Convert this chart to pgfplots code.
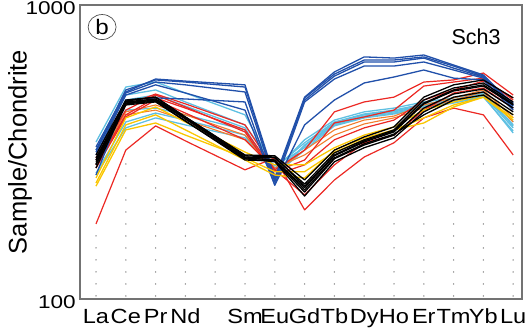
\documentclass[border=0pt]{standalone}
\usepackage{fontspec}
\setmainfont{Liberation Sans}
\newfontfamily\widefont[FakeStretch=1.15]{Liberation Sans}
\newfontfamily\wideyfont[FakeStretch=1.22]{Liberation Sans}
\usepackage{pgfplots}
\usepackage{pgfplotstable}
\usetikzlibrary{shapes.geometric}
\pgfplotsset{compat=1.18}

\definecolor{dblue}{RGB}{33,80,170}
\definecolor{lblue}{RGB}{95,192,226}
\definecolor{rred}{RGB}{236,40,35}
\definecolor{oorange}{RGB}{242,125,45}
\definecolor{yyellow}{RGB}{250,198,0}
\definecolor{axisgray}{RGB}{115,115,115}
\definecolor{dotgray}{RGB}{120,120,120}

% chondrite-normalised REE values (x: La=0 ... Lu=14, Pm=4 absent)
\pgfplotstableread{
x  B1  B2  B3  B4  B5  L1  L2  L3  L4  L5  L6  O1  O2  R1  R2  R3  R4  R5  Y1  Y2  Y3  K1  K2  K3  K4  K5  K6  K7
0  329 321 309 264 316 342 321 286 268 264 297 286 279 302 286 279 180 297 242 258 248 309 302 293 286 279 297 288
1  506 514 494 475 502 526 494 439 400 382 475 433 423 457 423 416 321 439 376 413 391 475 468 464 461 457 471 464
2  560 556 535 483 547 547 514 446 429 413 494 457 439 498 483 475 388 494 397 450 423 486 479 475 471 468 486 475
3  551 547 502 479 535 502 468 423 406 391 453 423 406 461 446 429 345 450 361 400 376 416 413 410 403 403 416 410
5  535 526 439 468 506 423 391 376 361 353 382 361 348 391 376 348 275 370 302 316 297 309 304 302 297 300 307 302
6  258 254 244 244 250 275 279 271 264 284 258 271 279 275 271 275 302 264 271 286 264 307 302 297 295 293 304 297
7  486 475 468 391 483 348 340 332 321 327 334 321 309 321 297 226 201 286 271 286 258 254 246 239 231 224 242 235
8  592 573 560 475 582 406 400 394 388 391 397 376 361 433 397 286 254 348 316 327 321 321 314 307 300 293 309 302
9  666 640 620 543 650 433 426 419 413 416 423 406 394 468 416 340 304 382 348 361 353 356 348 342 334 327 345 337
10 660 640 620 569 650 446 439 433 426 429 436 419 413 486 439 361 340 406 376 385 376 385 376 370 361 353 373 364
11 676 660 640 601 666 468 461 453 446 450 457 457 446 547 530 439 413 475 397 439 413 486 475 461 446 433 464 423
12 625 610 601 564 620 483 475 471 464 468 475 483 475 556 547 502 446 514 450 468 457 535 522 510 498 486 514 475
13 578 569 564 556 573 506 498 494 486 490 502 514 506 587 564 522 423 551 486 494 486 556 543 530 518 506 535 494
14 457 446 464 439 453 400 388 382 373 367 391 413 400 494 475 446 309 483 413 423 406 483 468 457 446 433 461 423
}\ree

\begin{document}
\begin{tikzpicture}
\begin{axis}[
  width=442pt, height=294pt, scale only axis,
  ymode=log, ymin=100, ymax=1000,
  xmin=-0.537, xmax=14.295,
  xtick={0,1,2,3,5,6,7,8,9,10,11,12,13,14},
  xticklabels={La,Ce,Pr,Nd,Sm,Eu,Gd,Tb,Dy,Ho,Er,Tm,Yb,Lu},
  ytick={100,1000}, yticklabels={100,1000},
  major tick length=0pt, minor tick length=0pt,
  /pgf/number format/assume math mode=true,
  axis line style={draw=axisgray, line width=1.3pt},
  xticklabel style={font=\widefont\fontsize{20.5}{22}\selectfont, anchor=base, inner sep=0pt, yshift=-25pt},
  yticklabel style={font=\wideyfont\fontsize{18.5}{20}\selectfont, anchor=east, inner sep=0pt, xshift=-4pt, yshift=-3pt},
  ylabel={Sample/Chondrite},
  ylabel style={font=\fontsize{25.5}{27}\selectfont, at={(axis description cs:-0.1086,0.5)}, anchor=south, inner sep=0pt},
  unbounded coords=jump,
  every axis plot/.append style={line join=round},
]
% dotted guide lines
\addplot[dotgray, line width=1.5pt, line cap=round, dash pattern=on 0pt off 12pt] coordinates {
(0,102.4) (0,164) (0,nan)
(1,102.4) (1,290) (1,nan)
(2,102.4) (2,348) (2,nan)
(3,102.4) (3,321) (3,nan)
(4,102.4) (4,290) (4,nan)
(5,102.4) (5,254) (5,nan)
(6,102.4) (6,222) (6,nan)
(7,102.4) (7,184) (7,nan)
(8,102.4) (8,229) (8,nan)
(9,102.4) (9,279) (9,nan)
(10,102.4) (10,326) (10,nan)
(11,102.4) (11,388) (11,nan)
(12,102.4) (12,400) (12,nan)
(13,102.4) (13,400) (13,nan)
(14,102.4) (14,302)
};
% light blue
\foreach \c in {L1,L2,L3,L4,L5,L6}{
  \addplot[lblue, line width=1.3pt] table[x=x, y=\c] {\ree};
}
% orange
\foreach \c in {O1,O2}{
  \addplot[oorange, line width=1.1pt] table[x=x, y=\c] {\ree};
}
% red
\foreach \c in {R1,R2,R3,R4,R5}{
  \addplot[rred, line width=1.2pt] table[x=x, y=\c] {\ree};
}
% dark blue
\foreach \c in {B1,B2,B3,B4,B5}{
  \addplot[dblue, line width=1.3pt] table[x=x, y=\c] {\ree};
}
% yellow
\foreach \c in {Y1,Y2,Y3}{
  \addplot[yyellow, line width=1.3pt] table[x=x, y=\c] {\ree};
}
% black
\foreach \c in {K1,K2,K3,K4,K5,K6,K7}{
  \addplot[black, line width=1.3pt] table[x=x, y=\c] {\ree};
}
\node[font=\fontsize{21.5}{23}\selectfont] at (rel axis cs:0.896,0.891) {Sch3};
\node[draw=black!70, ellipse, line width=0.7pt, minimum width=28pt, minimum height=25pt, inner sep=0pt, font=\widefont\fontsize{21}{22}\selectfont] at (rel axis cs:0.05,0.925) {b};
\end{axis}
\path[use as bounding box] (-80pt,-29pt) rectangle (448pt,299pt);
\end{tikzpicture}
\end{document}
